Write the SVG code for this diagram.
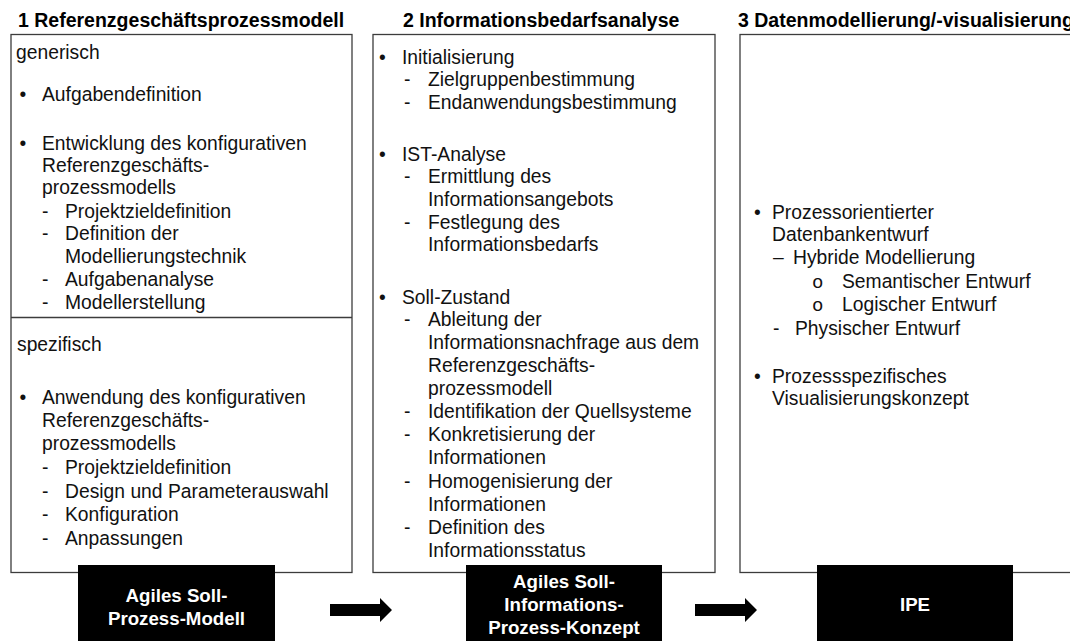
<svg xmlns="http://www.w3.org/2000/svg" width="1070" height="641" viewBox="0 0 1070 641">
  <style>
    .frame { fill: #ffffff; stroke: #3c3c3c; stroke-width: 1.3; }
    .title { font-family: "Liberation Sans", Arial, sans-serif; font-weight: bold; font-size: 19.5px; fill: #000000; }
    .body { font-family: "Liberation Sans", Arial, sans-serif; font-size: 19.3px; fill: #111111; }
    .ring { font-family: "Liberation Mono", "Courier New", monospace; font-size: 19px; }
    .result { fill: #000000; }
    .result-text { font-family: "Liberation Sans", Arial, sans-serif; font-weight: bold; font-size: 18.7px; fill: #ffffff; text-anchor: middle; }
    .arrow { fill: #000000; }
  </style>
  <defs>
    <!-- block arrow pointing right, origin at the left end of the shaft centre line -->
    <path id="blockArrow" d="M0,-6 L50,-6 L50,-12 L62,0 L50,12 L50,6 L0,6 Z"/>
  </defs>

  <rect width="1070" height="641" fill="#ffffff"/>

  <!-- Phase 1 -->
  <g id="phase1">
    <text class="title" x="18" y="27">1 Referenzgeschäftsprozessmodell</text>
    <rect class="frame" x="11" y="34.5" width="341" height="538"/>
    <line x1="11" y1="317.5" x2="352" y2="317.5" stroke="#3c3c3c" stroke-width="1.3"/>
    <g class="body">
      <text x="16" y="59">generisch</text>
      <text x="19.5" y="101">•</text><text x="42" y="101">Aufgabendefinition</text>
      <text x="19.5" y="150">•</text><text x="42" y="150">Entwicklung des konfigurativen</text>
      <text x="42" y="172">Referenzgeschäfts-</text>
      <text x="42" y="194">prozessmodells</text>
      <text x="42" y="218">-</text><text x="65" y="218">Projektzieldefinition</text>
      <text x="42" y="240">-</text><text x="65" y="240">Definition der</text>
      <text x="65" y="263">Modellierungstechnik</text>
      <text x="42" y="286">-</text><text x="65" y="286">Aufgabenanalyse</text>
      <text x="42" y="309">-</text><text x="65" y="309">Modellerstellung</text>

      <text x="17" y="351">spezifisch</text>
      <text x="19.5" y="404">•</text><text x="42" y="404">Anwendung des konfigurativen</text>
      <text x="42" y="427">Referenzgeschäfts-</text>
      <text x="42" y="450">prozessmodells</text>
      <text x="42" y="474">-</text><text x="65" y="474">Projektzieldefinition</text>
      <text x="42" y="498">-</text><text x="65" y="498">Design und Parameterauswahl</text>
      <text x="42" y="521">-</text><text x="65" y="521">Konfiguration</text>
      <text x="42" y="545">-</text><text x="65" y="545">Anpassungen</text>
    </g>
  </g>

  <!-- Phase 2 -->
  <g id="phase2">
    <text class="title" x="403" y="27">2 Informationsbedarfsanalyse</text>
    <rect class="frame" x="373" y="34.5" width="342" height="538"/>
    <g class="body">
      <text x="379" y="64">•</text><text x="402" y="64">Initialisierung</text>
      <text x="404" y="86">-</text><text x="428" y="86">Zielgruppenbestimmung</text>
      <text x="404" y="109">-</text><text x="428" y="109">Endanwendungsbestimmung</text>

      <text x="379" y="161">•</text><text x="402" y="161">IST-Analyse</text>
      <text x="404" y="183">-</text><text x="428" y="183">Ermittlung des</text>
      <text x="428" y="206">Informationsangebots</text>
      <text x="404" y="229">-</text><text x="428" y="229">Festlegung des</text>
      <text x="428" y="251">Informationsbedarfs</text>

      <text x="379" y="304">•</text><text x="402" y="304">Soll-Zustand</text>
      <text x="404" y="326">-</text><text x="428" y="326">Ableitung der</text>
      <text x="428" y="349">Informationsnachfrage aus dem</text>
      <text x="428" y="372">Referenzgeschäfts-</text>
      <text x="428" y="395">prozessmodell</text>
      <text x="404" y="418">-</text><text x="428" y="418">Identifikation der Quellsysteme</text>
      <text x="404" y="441">-</text><text x="428" y="441">Konkretisierung der</text>
      <text x="428" y="464">Informationen</text>
      <text x="404" y="488">-</text><text x="428" y="488">Homogenisierung der</text>
      <text x="428" y="511">Informationen</text>
      <text x="404" y="534">-</text><text x="428" y="534">Definition des</text>
      <text x="428" y="557">Informationsstatus</text>
    </g>
  </g>

  <!-- Phase 3 (frame runs past the right edge) -->
  <g id="phase3">
    <text class="title" x="738" y="27">3 Datenmodellierung/-visualisierung</text>
    <rect class="frame" x="740" y="34.5" width="340" height="538"/>
    <g class="body">
      <text x="754" y="219">•</text><text x="772" y="219">Prozessorientierter</text>
      <text x="772" y="241">Datenbankentwurf</text>
      <text x="773" y="264">–</text><text x="793" y="264">Hybride Modellierung</text>
      <text class="ring" x="812" y="288">o</text><text x="842" y="288">Semantischer Entwurf</text>
      <text class="ring" x="812" y="311">o</text><text x="842" y="311">Logischer Entwurf</text>
      <text x="773" y="335">-</text><text x="795" y="335">Physischer Entwurf</text>

      <text x="754" y="383">•</text><text x="772" y="383">Prozessspezifisches</text>
      <text x="772" y="405">Visualisierungskonzept</text>
    </g>
  </g>

  <!-- Results of each phase -->
  <g id="result1">
    <rect class="result" x="78" y="565" width="197" height="76"/>
    <text class="result-text" x="176.5" y="602">Agiles Soll-</text>
    <text class="result-text" x="176.5" y="625">Prozess-Modell</text>
  </g>
  <g id="result2">
    <rect class="result" x="466" y="565" width="196" height="76"/>
    <text class="result-text" x="564" y="588">Agiles Soll-</text>
    <text class="result-text" x="564" y="611">Informations-</text>
    <text class="result-text" x="564" y="634">Prozess-Konzept</text>
  </g>
  <g id="result3">
    <rect class="result" x="817" y="565" width="196" height="76"/>
    <text class="result-text" x="915" y="611">IPE</text>
  </g>

  <!-- Connectors -->
  <g id="connectors" class="arrow">
    <use href="#blockArrow" x="330" y="610"/>
    <use href="#blockArrow" x="695" y="610"/>
  </g>
</svg>
